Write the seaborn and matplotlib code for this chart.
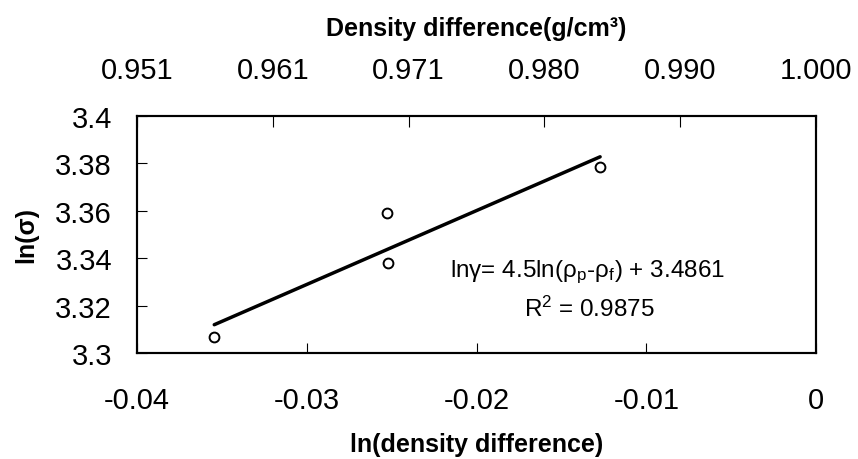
import numpy as np
import pandas as pd
import matplotlib
matplotlib.use("Agg")
import matplotlib.pyplot as plt
import seaborn as sns

# Data
ln_density_diff = [-0.03545, -0.02529, -0.02520, -0.01272]
ln_sigma = [3.3066, 3.3590, 3.3381, 3.3785]
bottom_ticks = [-0.04, -0.03, -0.02, -0.01, 0.0]
bottom_labels = ["-0.04", "-0.03", "-0.02", "-0.01", "0"]
y_ticks = [3.30, 3.32, 3.34, 3.36, 3.38, 3.40]
y_labels = ["3.3", "3.32", "3.34", "3.36", "3.38", "3.4"]
top_labels = ["0.951", "0.961", "0.971", "0.980", "0.990", "1.000"]
equation = "ln\u03b3= 4.5ln(\u03c1$_{\\rm p}$-\u03c1$_{\\rm f}$) + 3.4861"
r2_text = "R$^{2}$ = 0.9875"

sns.set_style("white")
plt.rcParams["font.family"] = ["Liberation Sans", "DejaVu Sans"]
plt.rcParams["mathtext.fontset"] = "custom"
plt.rcParams["mathtext.rm"] = "Liberation Sans"
plt.rcParams["mathtext.it"] = "Liberation Sans:italic"
plt.rcParams["mathtext.bf"] = "Liberation Sans:bold"
plt.rcParams["text.color"] = "black"
plt.rcParams["axes.labelcolor"] = "black"
plt.rcParams["xtick.color"] = "black"
plt.rcParams["ytick.color"] = "black"

df = pd.DataFrame({"x": ln_density_diff, "y": ln_sigma})

fig = plt.figure(figsize=(8.58, 4.60), dpi=100)
ax = fig.add_axes([0.1597, 0.2304, 0.7914, 0.5153])

sns.regplot(data=df, x="x", y="y", ax=ax, ci=None, truncate=True,
            scatter_kws=dict(s=50, facecolors="white", edgecolors="black",
                             linewidths=1.4, alpha=1, zorder=3),
            line_kws=dict(color="black", lw=2.5, alpha=1, zorder=2))

ax.set_xlim(-0.04, 0.0)
ax.set_ylim(3.30, 3.40)
ax.set_xticks(bottom_ticks)
ax.set_xticklabels(bottom_labels)
ax.set_yticks(y_ticks)
ax.set_yticklabels(y_labels)
ax.tick_params(axis="x", direction="in", length=7, width=0.8, pad=24,
               labelsize=21, bottom=True, top=False, colors="black")
ax.tick_params(axis="y", direction="in", length=7, width=0.8, pad=18,
               labelsize=21, left=True, right=False, colors="black")
ax.set_xlabel("ln(density difference)", fontsize=18, fontweight="bold",
              labelpad=13, color="black")
ax.set_ylabel("ln(\u03c3)", fontsize=18, fontweight="bold", labelpad=12,
              color="black")
for s in ax.spines.values():
    s.set_visible(True)
    s.set_color("black")
    s.set_linewidth(1.5)

ax2 = ax.twiny()
ax2.set_xlim(0, len(top_labels) - 1)
ax2.set_xticks(range(len(top_labels)))
ax2.set_xticklabels(top_labels)
ax2.tick_params(axis="x", direction="in", length=8, width=0.8, pad=23,
                labelsize=21, top=True, colors="black")
ax2.set_xlabel("Density difference(g/cm\u00b3)", fontsize=18, fontweight="bold",
               labelpad=15, color="black")
for s in ax2.spines.values():
    s.set_linewidth(1.5)
    s.set_color("black")

ax.text(0.663, 0.344, equation, transform=ax.transAxes, ha="center",
        va="center", fontsize=17.5, color="black")
ax.text(0.666, 0.19, r2_text, transform=ax.transAxes, ha="center",
        va="center", fontsize=17.5, color="black")

fig.savefig("out.png", dpi=100, facecolor="white")
